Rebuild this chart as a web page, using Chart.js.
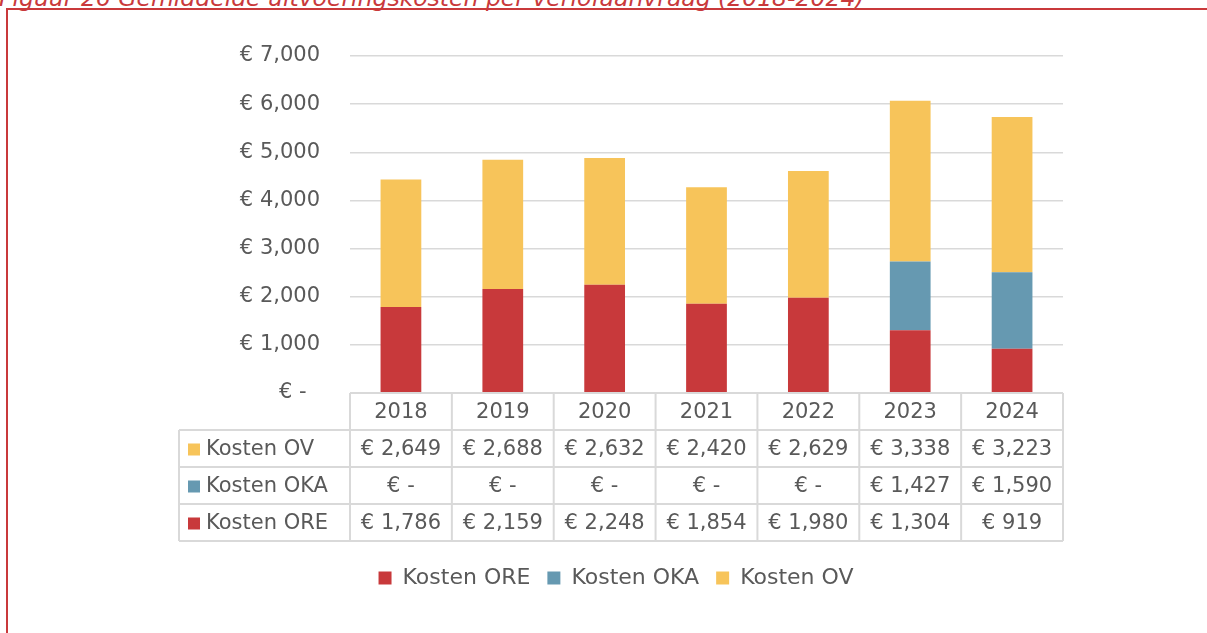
<!DOCTYPE html>
<html>
<head>
<meta charset="utf-8">
<script src="https://cdn.jsdelivr.net/npm/chart.js@4"></script>
<style>
    html, body { margin: 0; padding: 0; background: #fff; overflow: hidden; }
    .page { position: relative; width: 1207px; height: 633px; overflow: hidden; }
    .frame { position: absolute; left: 6px; top: 8px; width: 1400px; height: 800px; border: 2px solid #c9393b; }
    .caption { position: absolute; left: -1px; top: -13px; font-family: 'DejaVu Sans', sans-serif; font-style: italic; font-size: 23.5px; line-height: 23px; color: #c9393b; white-space: nowrap; }
    .chart-box { position: absolute; left: 0; top: 0; width: 1207px; height: 633px; }
</style>
</head>
<body>
<div class="page">
    <div class="frame"></div>
    <div class="caption">Figuur 26 Gemiddelde uitvoeringskosten per verlofaanvraag (2018-2024)</div>
    <div class="chart-box"><canvas id="costChart"></canvas></div>
</div>
<script>
const years = ['2018', '2019', '2020', '2021', '2022', '2023', '2024'];
const kostenORE = [1786, 2159, 2248, 1854, 1980, 1304, 919];
const kostenOKA = [0, 0, 0, 0, 0, 1427, 1590];
const kostenOV = [2649, 2688, 2632, 2420, 2629, 3338, 3223];
const seriesNames = ['Kosten ORE', 'Kosten OKA', 'Kosten OV'];
const yTicks = [0, 1000, 2000, 3000, 4000, 5000, 6000, 7000];

const colors = ['#c8393b', '#6699b1', '#f7c45a'];
const textColor = '#595959';
const lineColor = '#d9d9d9';
const fontFamily = "'DejaVu Sans', sans-serif";

function euro(v) {
    return v === 0 ? '€ -' : '€ ' + v.toLocaleString('en-US');
}

// Excel-style data table under the plot, drawn from the scales
const dataTable = {
    id: 'dataTable',
    afterDraw(chart) {
        const ctx = chart.ctx;
        const xs = chart.scales.x;
        const area = chart.chartArea;
        const half = (xs.getPixelForValue(1) - xs.getPixelForValue(0)) / 2;
        const rowH = 37;
        const top = area.bottom;
        const legendLeft = area.left - 171;
        const rows = [
            { name: seriesNames[2], color: colors[2], values: kostenOV },
            { name: seriesNames[1], color: colors[1], values: kostenOKA },
            { name: seriesNames[0], color: colors[0], values: kostenORE }
        ];
        const bottom = top + (rows.length + 1) * rowH;

        ctx.save();
        ctx.strokeStyle = lineColor;
        ctx.lineWidth = 2;
        ctx.font = '21px ' + fontFamily;
        ctx.fillStyle = textColor;
        ctx.textBaseline = 'middle';

        ctx.beginPath();
        ctx.moveTo(area.left, top);
        ctx.lineTo(area.right, top);
        for (let r = 1; r <= rows.length + 1; r++) {
            ctx.moveTo(legendLeft, top + r * rowH);
            ctx.lineTo(area.right, top + r * rowH);
        }
        years.forEach((yr, i) => {
            const cx = xs.getPixelForValue(i);
            ctx.moveTo(cx - half, top);
            ctx.lineTo(cx - half, bottom);
        });
        ctx.moveTo(area.right, top);
        ctx.lineTo(area.right, bottom);
        ctx.moveTo(legendLeft, top + rowH);
        ctx.lineTo(legendLeft, bottom);
        ctx.stroke();

        ctx.textAlign = 'center';
        years.forEach((yr, i) => {
            ctx.fillText(yr, xs.getPixelForValue(i), top + rowH / 2 + 1);
        });

        rows.forEach((row, r) => {
            const cy = top + (r + 1) * rowH + rowH / 2 + 1;
            ctx.fillStyle = row.color;
            ctx.fillRect(legendLeft + 9, cy - 6, 12, 12);
            ctx.fillStyle = textColor;
            ctx.textAlign = 'left';
            ctx.fillText(row.name, legendLeft + 27, cy);
            ctx.textAlign = 'center';
            row.values.forEach((v, i) => {
                ctx.fillText(euro(v), xs.getPixelForValue(i), cy);
            });
        });
        ctx.restore();
    }
};

new Chart(document.getElementById('costChart').getContext('2d'), {
    type: 'bar',
    data: {
        labels: years,
        datasets: [
            { label: seriesNames[0], data: kostenORE, backgroundColor: colors[0] },
            { label: seriesNames[1], data: kostenOKA, backgroundColor: colors[1] },
            { label: seriesNames[2], data: kostenOV, backgroundColor: colors[2] }
        ]
    },
    options: {
        responsive: true,
        maintainAspectRatio: false,
        animation: false,
        layout: { padding: { left: 169, right: 144, top: 56, bottom: 34 } },
        datasets: { bar: { categoryPercentage: 1, barPercentage: 0.4, borderWidth: 0 } },
        plugins: {
            legend: {
                position: 'bottom',
                labels: {
                    color: textColor,
                    font: { family: fontFamily, size: 22 },
                    boxWidth: 13,
                    boxHeight: 13,
                    padding: 17
                }
            },
            tooltip: { enabled: false },
            title: { display: false }
        },
        scales: {
            x: {
                stacked: true,
                grid: { display: false },
                border: { display: false },
                ticks: { display: false },
                afterFit(scale) { scale.height = 157; }
            },
            y: {
                stacked: true,
                min: 0,
                max: 7000,
                afterBuildTicks(scale) { scale.ticks = yTicks.map(v => ({ value: v })); },
                grid: { color: lineColor, lineWidth: 1.5, drawTicks: false },
                border: { display: false },
                ticks: {
                    color: textColor,
                    font: { family: fontFamily, size: 21 },
                    padding: 30,
                    callback: v => v === 0 ? '€ -  ' : euro(v)
                },
                afterFit(scale) { scale.width = 181; }
            }
        }
    },
    plugins: [dataTable]
});
</script>
</body>
</html>
